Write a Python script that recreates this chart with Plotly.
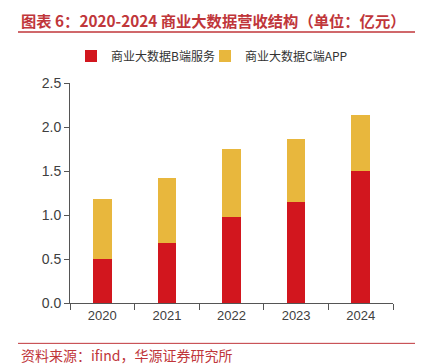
import plotly.graph_objects as go

years = ["2020", "2021", "2022", "2023", "2024"]
b_service = [0.50, 0.68, 0.98, 1.15, 1.50]
c_app = [0.68, 0.74, 0.77, 0.71, 0.64]
series_names = ["商业大数据B端服务", "商业大数据C端APP"]
y_ticks = [0.0, 0.5, 1.0, 1.5, 2.0, 2.5]

RED = "#D2161E"
YEL = "#E8B73D"
TITLE_RED = "#C0363A"
CJK = "Noto Sans CJK SC"

# page body has an 8px margin; work in reference-pixel coordinates shifted by it
OFF = 8
W, H = 423 - OFF, 364 - OFF
L, R, T, B = 70 - OFF, 393 - OFF, 83 - OFF, 302.7 - OFF
PW, PH = R - L, B - T

def px(x):
    return (x - OFF - L) / PW

def py(y):
    return (B - (y - OFF)) / PH

fig = go.Figure()
fig.add_trace(go.Bar(x=years, y=b_service, name=series_names[0], marker_color=RED,
                     marker_line_width=0, legend="legend"))
fig.add_trace(go.Bar(x=years, y=c_app, name=series_names[1], marker_color=YEL,
                     marker_line_width=0, legend="legend2"))

leg_common = dict(orientation="h", yanchor="middle", xanchor="left",
                  font=dict(family=CJK, size=12, color="#333333"),
                  bgcolor="rgba(0,0,0,0)", itemwidth=30)

fig.update_layout(
    width=W, height=H,
    barmode="stack", bargap=0.71,
    plot_bgcolor="white", paper_bgcolor="white",
    margin=dict(l=L, r=W - R, t=T, b=H - B, autoexpand=False, pad=0),
    font=dict(family=CJK, color="#404040", size=13),
    showlegend=True,
    legend=dict(x=px(111 - 40), y=py(56), **leg_common),
    legend2=dict(x=px(245 - 40), y=py(56), **leg_common),
)

fig.update_xaxes(showline=True, linecolor="#555555", linewidth=1, ticks="outside",
                 tickson="boundaries", ticklen=6, tickcolor="#555555",
                 tickfont=dict(family="Arial", size=13, color="#404040"), showgrid=False)
fig.update_yaxes(range=[0, 2.5], tickvals=y_ticks, tickformat=".1f", showline=True,
                 linecolor="#555555", linewidth=1, ticks="outside", ticklen=5,
                 tickcolor="#555555", showgrid=False, zeroline=False,
                 tickfont=dict(family="Arial", size=14, color="#404040"))

fig.add_annotation(text="<b>图表 6：2020-2024 商业大数据营收结构（单位：亿元）</b>",
                   xref="paper", yref="paper", x=px(19), y=py(20),
                   xanchor="left", yanchor="middle", showarrow=False,
                   font=dict(family=CJK, size=15.3, color=TITLE_RED))
fig.add_annotation(text="资料来源：ifind，华源证券研究所",
                   xref="paper", yref="paper", x=px(19), y=py(355),
                   xanchor="left", yanchor="middle", showarrow=False,
                   font=dict(family=CJK, size=14, color=TITLE_RED))
fig.add_shape(type="line", xref="paper", yref="paper",
              x0=px(18), x1=px(418), y0=py(32), y1=py(32),
              line=dict(color=TITLE_RED, width=1.5))
fig.add_shape(type="line", xref="paper", yref="paper",
              x0=px(18), x1=px(418), y0=py(343), y1=py(343),
              line=dict(color=TITLE_RED, width=1))

fig.write_html("out.html")
